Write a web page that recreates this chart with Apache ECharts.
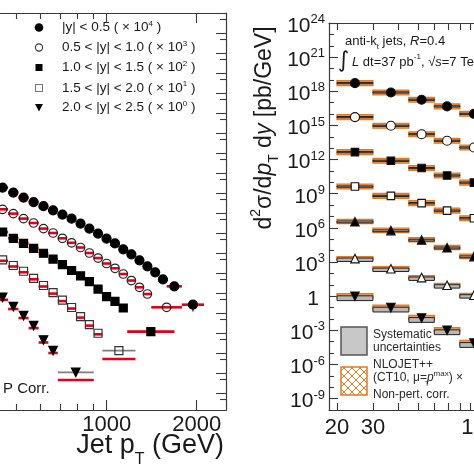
<!DOCTYPE html>
<html>
<head>
<meta charset="utf-8">
<script src="https://cdn.jsdelivr.net/npm/echarts@6.0.0/dist/echarts.min.js"></script>
<style>
html,body{margin:0;padding:0;background:#fff;}
#chart{width:474px;height:474px;}
</style>
</head>
<body>
<div id="chart"></div>
<script>
// ================= LEFT PANEL DATA (jet pT bins in GeV, scaled cross sections) =================
const leftEdgesA  = [430,468,507,548,592,638,686,737,790,846,905,967,1032,1101,1172,1248,1327,1410,1497,1588,1784,2116];
const leftValsA   = [1.86e4,1.05e4,5.9e3,3.5e3,2.2e3,1.36e3,830,520,295,166,93,52,30,15.3,8.6,4.3,2.16,1.08,0.48,0.216,0.026];
const leftTheoryA = [1.86e4,1.05e4,5.9e3,3.5e3,2.2e3,1.36e3,830,520,295,166,93,52,30,15.3,8.6,4.3,2.16,1.08,0.48,0.216,0.026];
const leftErrA    = [[20, 0.012, 0.043]]; // [bin index, low, high]

const leftEdgesB  = [430,468,507,548,592,638,686,737,790,846,905,967,1032,1101,1172,1248,1327,1410,1784];
const leftValsB   = [1530,933,525,316,166,100,54.3,32.4,18.8,10,5.6,2.99,1.72,0.89,0.42,0.193,0.089,0.0193];
const leftTheoryB = [1530,933,525,316,166,100,54.3,32.4,18.8,10,5.6,2.99,1.72,0.89,0.42,0.193,0.089,0.0193];

const leftEdgesC  = [430,468,507,548,592,638,686,737,790,846,905,967,1032,1101,1172,1684];
const leftValsC   = [112,54.3,30.5,17.2,9.7,4.95,2.63,1.33,0.716,0.372,0.158,0.066,0.0385,0.0178,0.00117];
const leftTheoryC = [112,54.3,30.5,17.2,9.7,4.95,2.63,1.33,0.716,0.372,0.158,0.066,0.0385,0.0178,0.00117];

const leftEdgesD  = [430,468,507,548,592,638,686,737,790,846,905,967,1248];
const leftValsD   = [4.57,2.37,1.22,0.543,0.237,0.105,0.0442,0.0188,0.0066,0.00263,0.00097,0.000132];
const leftTheoryD = [4.07,2.11,1.09,0.483,0.211,0.0935,0.0394,0.0167,0.0059,0.00234,0.00086,0.00005];

const leftEdgesE  = [430,468,507,548,592,638,686,905];
const leftValsE   = [0.061,0.0209,0.0074,0.00234,0.000447,0.000132,1.08e-5];
const leftTheoryE = [0.0457,0.0158,0.0056,0.00176,0.000335,0.0001,4.5e-6];

const leftLegendLabels = ['|y| < 0.5', '0.5 < |y| < 1.0', '1.0 < |y| < 1.5', '1.5 < |y| < 2.0', '2.0 < |y| < 2.5'];
const leftLegendExp    = ['4', '3', '2', '1', '0'];
const leftXMajorTicks  = [1000, 2000];
const leftXMinorTicks  = [500, 600, 700, 800, 900];

// ================= RIGHT PANEL DATA =================
const rightEdges = [20, 30, 45, 60, 80, 110];
const rightValsA = [5.2e18, 7.9e17, 1.8e17, 4.7e16, 1.05e16];
const rightValsB = [5.4e15, 9.3e14, 1.7e14, 4.5e13, 1.15e13];
const rightValsC = [4.5e12, 7.8e11, 1.8e11, 4.0e10, 9.5e9];
const rightValsD = [4.3e9, 6.5e8, 1.5e8, 3.3e7, 7.1e6];
const rightValsE = [3.5e6, 5.8e5, 8.7e4, 1.8e4, 3.0e3];
const rightValsF = [2.0e3, 2.6e2, 43, 9.1, 1.2];
const rightValsG = [0.98, 0.098, 0.012, 1.0e-3, 7.6e-5];
// uncertainty extents in decades, one per rapidity bin
const rightSysUp = [0.05, 0.05, 0.05, 0.05, 0.06, 0.05, 0.04];
const rightSysDn = [0.05, 0.05, 0.05, 0.06, 0.10, 0.25, 0.38];
const rightThUp  = [0.21, 0.21, 0.21, 0.21, 0.21, 0.17, 0.23];
const rightThDn  = [0.21, 0.21, 0.21, 0.21, 0.17, 0.12, 0.12];
const rightXTicks  = [20,30,40,50,60,70,80,90,100,200,300,400,500,600,700,800,900,1000];
const rightXLabels = [20, 30, 100, 1000];
const rightYLabelExp = [-9,-6,-3,0,3,6,9,12,15,18,21,24];

// ================= BUILD =================
const lg = Math.log10;
const FONT = '"Liberation Sans", Arial, Helvetica, sans-serif';
const INK = '#1a1a1a', AX = '#3a3a3a', RED = '#e2001a', ORANGE = '#e27a26';

const LXMIN = 2.6431, LXMAX = 3.399, LYMIN = -6.85, LYMAX = 13;
const RXMIN = 1.2618, RXMAX = 3.2226, RYMIN = -10, RYMAX = 24;

function rows(edges, vals) { return vals.map((v, i) => [lg(edges[i]), lg(edges[i + 1]), lg(v)]); }
function pts(edges, vals) { return vals.map((v, i) => [(lg(edges[i]) + lg(edges[i + 1])) / 2, lg(v)]); }

const leftSets = [
  [leftEdgesA, leftValsA, leftTheoryA],
  [leftEdgesB, leftValsB, leftTheoryB],
  [leftEdgesC, leftValsC, leftTheoryC],
  [leftEdgesD, leftValsD, leftTheoryD],
  [leftEdgesE, leftValsE, leftTheoryE]
];
const leftStyles = [
  {symbol: 'circle', size: 9, fill: '#000', stroke: '#000'},
  {symbol: 'circle', size: 8.5, fill: 'rgba(255,255,255,0)', stroke: '#222'},
  {symbol: 'rect', size: 8, fill: '#000', stroke: '#000'},
  {symbol: 'rect', size: 8, fill: 'rgba(255,255,255,0)', stroke: '#333'},
  {symbol: 'triangle', size: 8.5, fill: '#000', stroke: '#000', rotate: 180}
];

function hbar(color, width, minPx) {
  return function (params, api) {
    const y = api.value(2);
    const a = api.coord([api.value(0), y]);
    const b = api.coord([api.value(1), y]);
    if (minPx && (b[0] - a[0]) < minPx) return {type: 'group', children: []};
    return {type: 'line', shape: {x1: a[0], y1: a[1], x2: b[0], y2: b[1]},
      style: {stroke: color, lineWidth: width}};
  };
}

let dataBarRows = [], theoryRows = [];
leftSets.forEach(s => { dataBarRows = dataBarRows.concat(rows(s[0], s[1])); theoryRows = theoryRows.concat(rows(s[0], s[2])); });

const series = [];
series.push({type: 'custom', xAxisIndex: 0, yAxisIndex: 0, clip: true, encode: {x: [0, 1], y: 2},
  data: dataBarRows, renderItem: hbar('#808080', 1.6, 14), silent: true});
series.push({type: 'custom', xAxisIndex: 0, yAxisIndex: 0, clip: true, encode: {x: [0, 1], y: 2},
  data: theoryRows, renderItem: hbar(RED, 2.6, 0), silent: true});
series.push({type: 'custom', xAxisIndex: 0, yAxisIndex: 0, clip: true, encode: {x: 0, y: [1, 2]},
  data: leftErrA.map(e => [(lg(leftEdgesA[e[0]]) + lg(leftEdgesA[e[0] + 1])) / 2, lg(e[1]), lg(e[2])]),
  renderItem: function (params, api) {
    const a = api.coord([api.value(0), api.value(1)]);
    const b = api.coord([api.value(0), api.value(2)]);
    return {type: 'line', shape: {x1: a[0], y1: a[1], x2: b[0], y2: b[1]}, style: {stroke: '#222', lineWidth: 1.3}};
  }, silent: true});
leftSets.forEach((s, i) => {
  const st = leftStyles[i];
  series.push({type: 'scatter', xAxisIndex: 0, yAxisIndex: 0, clip: true, name: leftLegendLabels[i],
    data: pts(s[0], s[1]), symbol: st.symbol, symbolSize: st.size, symbolRotate: st.rotate || 0,
    itemStyle: {color: st.fill, borderColor: st.stroke, borderWidth: 1.2, opacity: 1}, silent: true});
});

// right panel
const rightSets = [rightValsA, rightValsB, rightValsC, rightValsD, rightValsE, rightValsF, rightValsG];
const rightStyles = [
  {symbol: 'circle', size: 9, fill: '#000'},
  {symbol: 'circle', size: 9, fill: '#fff'},
  {symbol: 'rect', size: 7.5, fill: '#000'},
  {symbol: 'rect', size: 7.5, fill: '#fff'},
  {symbol: 'triangle', size: 8.5, fill: '#000'},
  {symbol: 'triangle', size: 8.5, fill: '#fff'},
  {symbol: 'triangle', size: 8.5, fill: '#000', rotate: 180}
];
let bandRows = [];
rightSets.forEach((vals, k) => {
  vals.forEach((v, i) => bandRows.push([lg(rightEdges[i]), lg(rightEdges[i + 1]), lg(v),
    rightSysUp[k], rightSysDn[k], rightThUp[k], rightThDn[k]]));
});
series.push({type: 'custom', xAxisIndex: 4, yAxisIndex: 2, clip: true, encode: {x: [0, 1], y: 2},
  data: bandRows, silent: true,
  renderItem: function (params, api) {
    const lo = api.value(0), hi = api.value(1), v = api.value(2);
    const a = api.coord([lo, v + api.value(5)]), b = api.coord([hi, v - api.value(6)]);
    const c = api.coord([lo, v + api.value(3)]), d = api.coord([hi, v - api.value(4)]);
    return {type: 'group', children: [
      {type: 'rect', shape: {x: a[0], y: a[1], width: b[0] - a[0], height: b[1] - a[1]},
        style: {fill: '#ee9a55', stroke: ORANGE, lineWidth: 1.3}},
      {type: 'rect', shape: {x: c[0], y: c[1], width: d[0] - c[0], height: d[1] - c[1]},
        style: {fill: '#b8b8b8', stroke: '#202020', lineWidth: 1}}
    ]};
  }});
rightSets.forEach((vals, k) => {
  const st = rightStyles[k];
  series.push({type: 'scatter', xAxisIndex: 4, yAxisIndex: 2, clip: true,
    data: vals.map((v, i) => [(lg(rightEdges[i]) + lg(rightEdges[i + 1])) / 2, lg(v)]),
    symbol: st.symbol, symbolSize: st.size, symbolRotate: st.rotate || 0,
    itemStyle: {color: st.fill, borderColor: '#111', borderWidth: 1.1, opacity: 1}, silent: true});
});

// axes helpers
function xAx(grid, pos, min, max, ticks, len, labels, margin) {
  const o = {gridIndex: grid, type: 'value', position: pos, min: min, max: max,
    axisLine: {show: true, onZero: false, lineStyle: {color: AX, width: 1.2}},
    axisTick: {show: true, inside: true, length: len, customValues: ticks.map(lg), lineStyle: {color: AX, width: 1.1}},
    axisLabel: {show: false}, splitLine: {show: false}};
  if (labels) {
    o.axisLabel = {show: true, customValues: labels.map(lg), margin: margin,
      formatter: v => String(Math.round(Math.pow(10, v))),
      fontSize: 22, fontFamily: FONT, color: INK};
  }
  return o;
}
function yAx(grid, pos, min, max, ticks, len, showLine) {
  return {gridIndex: grid, type: 'value', position: pos, min: min, max: max, offset: 0,
    axisLine: {show: showLine, onZero: false, lineStyle: {color: AX, width: 1.2}},
    axisTick: {show: true, inside: true, length: len, customValues: ticks, lineStyle: {color: AX, width: 1.1}},
    axisLabel: {show: false}, splitLine: {show: false}};
}

const leftYLong = [], leftYShort = [];
for (let k = -6; k <= 13; k++) { leftYLong.push(k); leftYShort.push(k - 1 / 3); }
const rightYShort = [];
for (let k = -9; k <= 24; k++) { if (k % 3 !== 0) rightYShort.push(k); }

const yRightMain = yAx(1, 'left', RYMIN, RYMAX, rightYLabelExp, 9, true);
yRightMain.axisLabel = {show: true, customValues: rightYLabelExp, margin: 4, padding: [6, 0, 0, 0],
  formatter: v => (Math.round(v) === 0 ? '{b|1}{p| }' : '{b|10}{s|' + Math.round(v) + '}'),
  rich: {
    b: {fontSize: 21, lineHeight: 26, fontFamily: FONT, color: INK},
    s: {fontSize: 13, lineHeight: 13, verticalAlign: 'top', fontFamily: FONT, color: INK},
    p: {width: 6, fontSize: 10}
  }};

function hatchPattern() {
  const c = document.createElement('canvas');
  c.width = 8; c.height = 8;
  const g = c.getContext('2d');
  g.strokeStyle = ORANGE; g.lineWidth = 1;
  g.beginPath(); g.moveTo(0, 0); g.lineTo(8, 8); g.moveTo(8, 0); g.lineTo(0, 8); g.stroke();
  return c;
}

// legend graphics (left)
const legendY = [27.5, 47.5, 67.5, 88, 107.5];
const graphics = [];
graphics.push({type: 'circle', shape: {cx: 39, cy: legendY[0], r: 4.3}, style: {fill: '#000'}});
graphics.push({type: 'circle', shape: {cx: 39, cy: legendY[1], r: 3.6}, style: {fill: '#fff', stroke: '#333', lineWidth: 1.1}});
graphics.push({type: 'rect', shape: {x: 35.5, y: legendY[2] - 3.5, width: 7, height: 7}, style: {fill: '#000'}});
graphics.push({type: 'rect', shape: {x: 35.5, y: legendY[3] - 3.5, width: 7, height: 7}, style: {fill: '#fff', stroke: '#777', lineWidth: 1.1}});
graphics.push({type: 'polygon', shape: {points: [[35, legendY[4] - 3.5], [43, legendY[4] - 3.5], [39, legendY[4] + 4]]}, style: {fill: '#000'}});
leftLegendLabels.forEach((lab, i) => {
  graphics.push({type: 'text', x: 62, y: legendY[i], style: {
    text: '{t|' + lab + ' ( × 10}{s|' + leftLegendExp[i] + '}{t| )}',
    align: 'left', verticalAlign: 'middle',
    rich: {t: {fontSize: 13.5, lineHeight: 16, fontFamily: FONT, fill: INK},
           s: {fontSize: 8, lineHeight: 8, verticalAlign: 'top', fontFamily: FONT, fill: INK}}}});
});
graphics.push({type: 'text', x: 3, y: 389, style: {text: 'P Corr.', fontSize: 15, fontFamily: FONT, fill: INK, align: 'left', verticalAlign: 'middle'}});
graphics.push({type: 'text', x: 224, y: 446, style: {
  text: '{a|Jet p}{u|T}{a| (GeV)}', align: 'right', verticalAlign: 'middle',
  rich: {a: {fontSize: 27, lineHeight: 44, fontFamily: FONT, fill: INK},
         u: {fontSize: 16, lineHeight: 16, verticalAlign: 'bottom', fontFamily: FONT, fill: INK}}}});

// right panel texts
graphics.push({type: 'text', x: 265, y: 128, rotation: Math.PI / 2, style: {
  text: '{m|d}{sp|2}{m|σ/d}{i|p}{sb|T}{m| d}{i|y}{m| [pb/GeV]}', align: 'center', verticalAlign: 'middle',
  rich: {m: {fontSize: 23, lineHeight: 32, fontFamily: FONT, fill: INK},
         i: {fontSize: 23, lineHeight: 32, fontStyle: 'italic', fontFamily: FONT, fill: INK},
         sp: {fontSize: 14, lineHeight: 14, verticalAlign: 'top', fontFamily: FONT, fill: INK},
         sb: {fontSize: 14, lineHeight: 14, verticalAlign: 'bottom', fontFamily: FONT, fill: INK}}}});
graphics.push({type: 'text', x: 345, y: 41.5, style: {
  text: '{t|anti-k}{u|t}{t| jets, }{i|R}{t|=0.4}', align: 'left', verticalAlign: 'middle',
  rich: {t: {fontSize: 13, lineHeight: 18, fontFamily: FONT, fill: INK},
         i: {fontSize: 13, lineHeight: 18, fontStyle: 'italic', fontFamily: FONT, fill: INK},
         u: {fontSize: 8, lineHeight: 8, verticalAlign: 'bottom', fontFamily: FONT, fill: INK}}}});
graphics.push({type: 'text', x: 343.5, y: 61, style: {text: '∫', fontSize: 22, fontFamily: '"DejaVu Sans", sans-serif', fill: INK, align: 'center', verticalAlign: 'middle'}});
graphics.push({type: 'text', x: 352, y: 62, style: {
  text: '{i|L}{t| dt=37 pb}{s|-1}{t|, √}{i|s}{t|=7 TeV}', align: 'left', verticalAlign: 'middle',
  rich: {t: {fontSize: 13, lineHeight: 18, fontFamily: FONT, fill: INK},
         i: {fontSize: 13, lineHeight: 18, fontStyle: 'italic', fontFamily: FONT, fill: INK},
         s: {fontSize: 8, lineHeight: 8, verticalAlign: 'top', fontFamily: FONT, fill: INK}}}});
// right legend
graphics.push({type: 'rect', shape: {x: 341, y: 327, width: 26, height: 28}, style: {fill: '#c8c8c8', stroke: '#555', lineWidth: 1.5}});
graphics.push({type: 'rect', shape: {x: 341, y: 367, width: 26, height: 28}, style: {fill: {image: hatchPattern(), repeat: 'repeat'}, stroke: ORANGE, lineWidth: 1.5}});
const rlegT = {fontSize: 12, fontFamily: FONT, fill: '#2a2a2a', align: 'left', verticalAlign: 'middle'};
graphics.push({type: 'text', x: 373, y: 335, style: Object.assign({text: 'Systematic'}, rlegT)});
graphics.push({type: 'text', x: 373, y: 348, style: Object.assign({text: 'uncertainties'}, rlegT)});
graphics.push({type: 'text', x: 373, y: 365, style: Object.assign({text: 'NLOJET++'}, rlegT)});
graphics.push({type: 'text', x: 373, y: 378, style: {
  text: '{t|(CT10, μ=}{i|p}{s|max}{t|) ×}', align: 'left', verticalAlign: 'middle',
  rich: {t: {fontSize: 12, lineHeight: 16, fontFamily: FONT, fill: '#2a2a2a'},
         i: {fontSize: 12, lineHeight: 16, fontStyle: 'italic', fontFamily: FONT, fill: '#2a2a2a'},
         s: {fontSize: 8, lineHeight: 8, verticalAlign: 'top', fontFamily: FONT, fill: '#2a2a2a'}}}});
graphics.push({type: 'text', x: 425, y: 384, style: {text: 'T', fontSize: 7, fontFamily: FONT, fill: '#2a2a2a', align: 'left', verticalAlign: 'middle'}});
graphics.push({type: 'text', x: 373, y: 395, style: Object.assign({text: 'Non-pert. corr.'}, rlegT)});

const option = {
  animation: false,
  backgroundColor: '#fff',
  grid: [
    {left: 0, top: 13, width: 226, height: 397, containLabel: false, outerBoundsMode: 'none'},
    {left: 329, top: 23, width: 400, height: 387, containLabel: false, outerBoundsMode: 'none'}
  ],
  xAxis: [
    xAx(0, 'bottom', LXMIN, LXMAX, leftXMajorTicks, 10, leftXMajorTicks, 4),
    xAx(0, 'bottom', LXMIN, LXMAX, leftXMinorTicks, 6, null),
    xAx(0, 'top', LXMIN, LXMAX, leftXMajorTicks, 10, null),
    xAx(0, 'top', LXMIN, LXMAX, leftXMinorTicks, 6, null),
    xAx(1, 'bottom', RXMIN, RXMAX, rightXTicks, 7, rightXLabels, 7),
    xAx(1, 'top', RXMIN, RXMAX, rightXTicks, 7, null)
  ],
  yAxis: [
    yAx(0, 'right', LYMIN, LYMAX, leftYLong, 10, true),
    yAx(0, 'right', LYMIN, LYMAX, leftYShort, 6, false),
    yRightMain,
    yAx(1, 'left', RYMIN, RYMAX, rightYShort, 5, false)
  ],
  series: series,
  graphic: graphics
};

const chart = echarts.init(document.getElementById('chart'), null, {renderer: 'canvas'});
chart.setOption(option);
</script>
</body>
</html>
